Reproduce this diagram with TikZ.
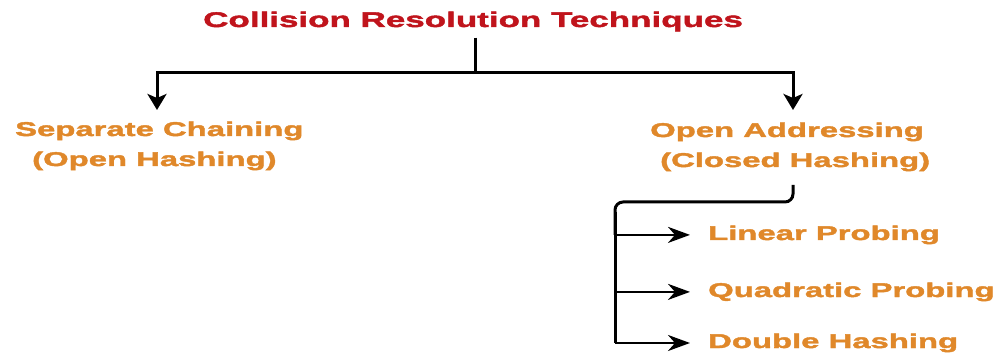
\documentclass[tikz,border=0pt]{standalone}
\usepackage{fontspec}
\setmainfont{Liberation Sans}[FakeStretch=1.65, BoldFeatures={FakeStretch=1.65, FakeBold=2}]
\usetikzlibrary{arrows.meta}
\definecolor{titlered}{RGB}{192,20,28}
\definecolor{labelorange}{RGB}{224,136,42}
\begin{document}
\begin{tikzpicture}[x=1pt,y=-1pt,
  titletext/.style={inner sep=0pt, anchor=base west, text=titlered, font=\bfseries\fontsize{21.2}{24}\selectfont},
  labeltext/.style={inner sep=0pt, anchor=base west, text=labelorange, font=\bfseries\fontsize{19.9}{22}\selectfont},
  conn/.style={line width=3pt, draw=black},
  downarrow/.style={conn, -{Stealth[length=16pt, width=19pt, inset=4pt]}},
  sidearrow/.style={line width=2.6pt, draw=black, -{Stealth[length=22pt, width=16pt, inset=7pt]}}
]
\useasboundingbox (0,0) rectangle (1000,355);
\fill[white] (0,0) rectangle (1000,355);

% texts
\node[titletext] (title) at (203,27) {Collision Resolution Techniques};
\node[labeltext] (sep1) at (15,136) {Separate Chaining};
\node[labeltext] (sep2) at (32,166) {(Open Hashing)};
\node[labeltext] (open1) at (650,137) {Open Addressing};
\node[labeltext] (open2) at (660,167) {(Closed Hashing)};
\node[labeltext] (lin) at (708,240) {Linear Probing};
\node[labeltext] (quad) at (708,297) {Quadratic Probing};
\node[labeltext] (dbl) at (708,348) {Double Hashing};

% coordinates
\coordinate (j) at (475,73);
\coordinate (sepTip) at (157,110);
\coordinate (openTip) at (793,110);
\coordinate (bStart) at (793,185);
\coordinate (bCorner) at (615,202);
\coordinate (bTurn) at (615,235);
\coordinate (bBottom) at (615,343);

% top tree
\draw[conn] (title.south -| j) ++(0,6) -- (j);
\draw[downarrow] (j) -| (sepTip);
\draw[downarrow] (j) -| (openTip);

% branch under open addressing
\draw[conn, rounded corners=8pt] (bStart) |- (bCorner) -- (bTurn);
\draw[conn] (bCorner) ++(0,10) -- (bBottom);
\draw[sidearrow, shorten >=18pt] (bBottom |- lin.west) -- (lin.west);
\draw[sidearrow, shorten >=18pt] (bBottom |- quad.west) -- (quad.west);
\draw[sidearrow, shorten >=18pt] (bBottom) -- (bBottom -| dbl.west);
\end{tikzpicture}
\end{document}
